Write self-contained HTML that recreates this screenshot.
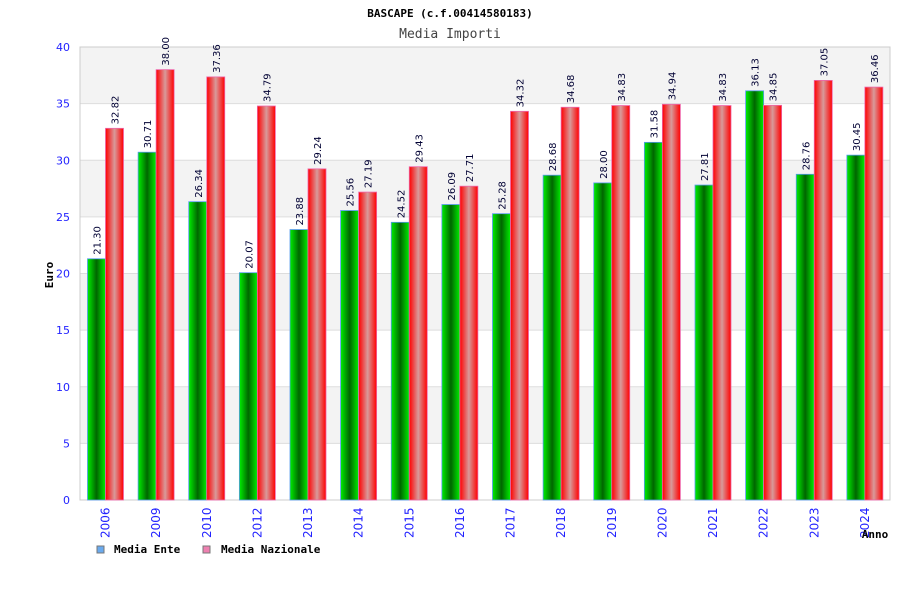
<!DOCTYPE html>
<html><head><meta charset="utf-8"><style>
body{margin:0;background:#fff;width:900px;height:600px;overflow:hidden}
svg text{font-family:"DejaVu Sans Mono","Liberation Mono",monospace}
svg text.s{font-family:"DejaVu Sans","Liberation Sans",sans-serif}
</style></head><body>
<svg id="c" width="900" height="600">
<defs>
<linearGradient id="gG" x1="0" x2="1"><stop offset="0" stop-color="#00ee00"/><stop offset="0.5" stop-color="#006600"/><stop offset="1" stop-color="#00ee00"/></linearGradient>
<linearGradient id="gR" x1="0" x2="1"><stop offset="0" stop-color="#ff0000"/><stop offset="0.5" stop-color="#d89a9a"/><stop offset="1" stop-color="#ff0000"/></linearGradient>
</defs>
<text x="450" y="17" text-anchor="middle" font-size="11" font-weight="bold">BASCAPE (c.f.00414580183)</text>
<text x="450" y="38" text-anchor="middle" font-size="13" fill="#444">Media Importi</text>
<g id="plot"></g>
<text transform="translate(53,275) rotate(-90)" text-anchor="middle" font-size="11" font-weight="bold">Euro</text>
<text x="875" y="538" text-anchor="middle" font-size="11" font-weight="bold">Anno</text>
<g><rect x="97" y="546" width="7" height="7" fill="#6aaaee" stroke="#777"/><text x="114" y="553" font-size="11" font-weight="bold">Media Ente</text></g>
<g><rect x="203" y="546" width="7" height="7" fill="#ee80b0" stroke="#777"/><text x="221" y="553" font-size="11" font-weight="bold">Media Nazionale</text></g>
</svg>
<script>
const years=["2006","2009","2010","2012","2013","2014","2015","2016","2017","2018","2019","2020","2021","2022","2023","2024"];
const ente=[21.30,30.71,26.34,20.07,23.88,25.56,24.52,26.09,25.28,28.68,28.00,31.58,27.81,36.13,28.76,30.45];
const naz=[32.82,38.00,37.36,34.79,29.24,27.19,29.43,27.71,34.32,34.68,34.83,34.94,34.83,34.85,37.05,36.46];
const yTicks=[0,5,10,15,20,25,30,35,40];
const L=80,R=890,T=47,B=500,MAX=40;
const y=v=>B-(v/MAX)*(B-T);
const gw=(R-L)/years.length;
const x=i=>L+i*gw;
const g=document.getElementById('plot');
const NS="http://www.w3.org/2000/svg";
function mk(t,a){const e=document.createElementNS(NS,t);for(const k in a)e.setAttribute(k,a[k]);g.appendChild(e);return e;}
for(let k=0;k<yTicks.length-1;k++){
  const band=mk('rect',{x:L,y:y(yTicks[k+1]),width:R-L,height:y(yTicks[k])-y(yTicks[k+1]),fill:(k%2==1)?'#f3f3f3':'#fff'});
  
  
}
yTicks.forEach(v=>{
  const l=mk('line',{x1:L,x2:R,y1:y(v),y2:y(v),stroke:'#ddd'});
  
  
  const t=mk('text',{x:L-10,y:y(v)+4,'text-anchor':'end','font-size':11,fill:'#22f',class:'s'});t.textContent=v;
  
  
});
mk('rect',{x:L,y:T,width:R-L,height:B-T,fill:'none',stroke:'#ccc'});
function lab(cx,v){const t=mk('text',{transform:`translate(${cx+4},${y(v)-4}) rotate(-90)`,'font-size':10,fill:'#003',class:'s'});t.textContent=v.toFixed(2);
  
  }
years.forEach((yr,i)=>{
  const x0=x(i)+7.5;
  const b1=mk('rect',{x:x0,y:y(ente[i]),width:18,height:B-y(ente[i]),fill:'url(#gG)',stroke:'#5599ee','stroke-width':0.8});
  
  
  const b2=mk('rect',{x:x0+18,y:y(naz[i]),width:18,height:B-y(naz[i]),fill:'url(#gR)',stroke:'#ee66aa','stroke-width':0.8});
  
  
  lab(x0+9,ente[i]);lab(x0+27,naz[i]);
  const t=mk('text',{transform:`translate(${x0+22},${538}) rotate(-90)`,'font-size':12,fill:'#22f',class:'s'});t.textContent=yr;
  
  
});
</script>
</body></html>
